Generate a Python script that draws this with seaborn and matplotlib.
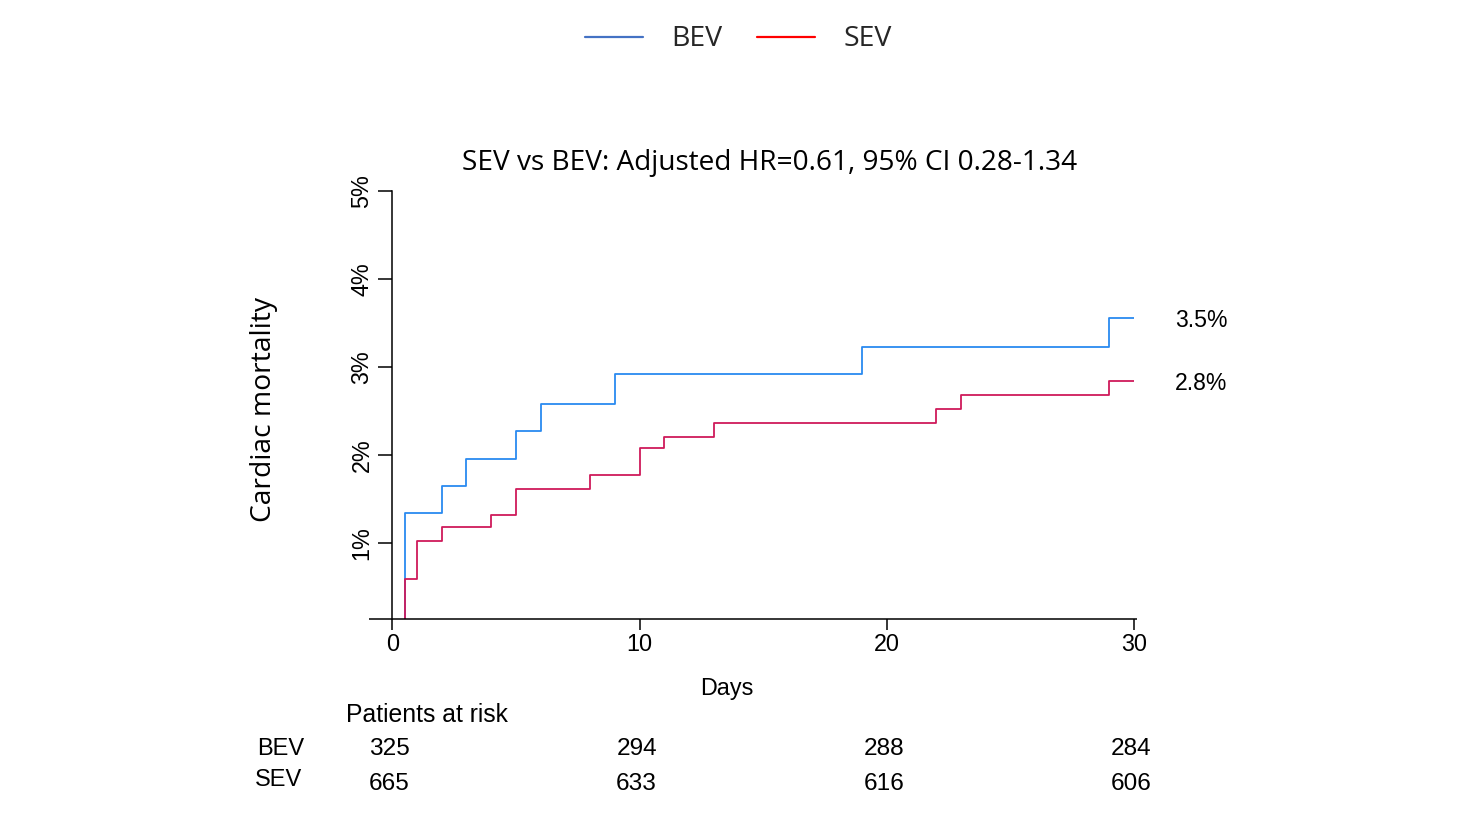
import numpy as np
import pandas as pd
import matplotlib
matplotlib.use("Agg")
import matplotlib.pyplot as plt
import matplotlib.transforms as mtransforms
from matplotlib.lines import Line2D
import seaborn as sns

# ---------------- data ----------------
groups = ["BEV", "SEV"]
bev_days = [0, 0.5, 2, 3, 5, 6, 9, 19, 29, 30]
bev_mort = [0.0, 1.34, 1.65, 1.96, 2.27, 2.58, 2.92, 3.23, 3.56, 3.56]
sev_days = [0, 0.5, 1, 2, 4, 5, 8, 10, 11, 13, 22, 23, 29, 30]
sev_mort = [0.0, 0.59, 1.03, 1.18, 1.32, 1.62, 1.78, 2.08, 2.21, 2.37, 2.53, 2.68, 2.84, 2.84]
end_labels = ["3.5%", "2.8%"]
risk_days = [0, 10, 20, 30]
bev_risk = [325, 294, 288, 284]
sev_risk = [665, 633, 616, 606]
x_ticks = [0, 10, 20, 30]
y_ticks = [1, 2, 3, 4, 5]
y_tick_labels = ["1%", "2%", "3%", "4%", "5%"]
title = "SEV vs BEV: Adjusted HR=0.61, 95% CI 0.28-1.34"

df = pd.concat([
    pd.DataFrame({"day": bev_days, "mort": bev_mort, "group": "BEV"}),
    pd.DataFrame({"day": sev_days, "mort": sev_mort, "group": "SEV"}),
], ignore_index=True)

# ---------------- style ----------------
sns.set_theme(style="white")
plt.rcParams["font.family"] = ["Liberation Sans", "DejaVu Sans"]
ARIAL = ["Liberation Sans", "DejaVu Sans"]
HUMAN = ["Open Sans", "DejaVu Sans"]

W, H = 1478, 832
fig = plt.figure(figsize=(W / 100, H / 100), dpi=100)
fig.patch.set_facecolor("white")

def fx(px):
    return px / W

def fy(py):
    return 1 - py / H

# small downward shift (pixels) so that capitals are centred like the reference
down = mtransforms.ScaledTranslation(0, -2.5 / 100, fig.dpi_scale_trans)

ax = fig.add_axes([fx(392.3), fy(619), fx(1134) - fx(392.3), fy(191) - fy(619)])
ax.set_facecolor("white")

line_palette = {"BEV": "#2a8af0", "SEV": "#cf1a5a"}
sns.lineplot(data=df, x="day", y="mort", hue="group", palette=line_palette,
             drawstyle="steps-post", estimator=None, sort=False,
             linewidth=1.3, legend=False, ax=ax)

ax.set_xlim(0, 30)
ax.set_ylim(0.14, 5.0)

for s in ["top", "right", "bottom"]:
    ax.spines[s].set_visible(False)
ax.spines["left"].set_color("black")
ax.spines["left"].set_linewidth(1.1)
# bottom axis line extends slightly beyond the plotting range
ax.plot([-0.031, 1.004], [0, 0], transform=ax.transAxes, color="black",
        lw=1.1, clip_on=False, solid_capstyle="butt")

ax.set_xticks(x_ticks)
ax.set_xticklabels([str(t) for t in x_ticks], fontsize=16.8, family=ARIAL)
ax.set_yticks(y_ticks)
ax.set_yticklabels(y_tick_labels, fontsize=16.8, family=ARIAL, rotation=90, va="center")
ax.tick_params(axis="x", length=8, width=1.1, color="black", pad=2, labelcolor="black", direction="out", bottom=True)
ax.tick_params(axis="y", length=10, width=1.1, color="black", pad=3.5, labelcolor="black", direction="out", left=True)
ax.grid(False)

# axis labels
ax.set_xlabel("Days", fontsize=16.8, family=ARIAL, color="black", va="center")
ax.xaxis.set_label_coords((727 - 392.3) / 741.7, (619 - 688) / 428)
ax.set_ylabel("Cardiac mortality", fontsize=20.3, family=HUMAN, color="black", va="center")
ax.yaxis.set_label_coords((264 - 392.3) / 741.7, (619 - 409) / 428)

# title
ax.set_title(title, fontsize=20.2, family=HUMAN, color="black",
             x=(769.5 - 392.3) / 741.7, pad=15)

# end labels
for val, lab in zip([bev_mort[-1], sev_mort[-1]], end_labels):
    ax.text(31.66, val, lab, ha="left", va="center", fontsize=16.6,
            family=ARIAL, color="black", clip_on=False,
            transform=ax.transData + down)

# patients at risk table
blend = mtransforms.blended_transform_factory(ax.transData, fig.transFigure)
fig.text(fx(346), fy(713), "Patients at risk", ha="left", va="center",
         fontsize=17.8, family=ARIAL, color="black", transform=fig.transFigure + down)
fig.text(fx(257), fy(746.5), "BEV", ha="left", va="center", fontsize=17, family=ARIAL,
         color="black", transform=fig.transFigure + down)
fig.text(fx(255), fy(777), "SEV", ha="left", va="center", fontsize=17, family=ARIAL,
         color="black", transform=fig.transFigure + down)
for d, b, s in zip(risk_days, bev_risk, sev_risk):
    ax.text(d - 0.12, fy(746.5), str(b), transform=blend + down, ha="center", va="center",
            fontsize=17.6, family=ARIAL, color="black", clip_on=False)
    ax.text(d - 0.12, fy(781), str(s), transform=blend + down, ha="center", va="center",
            fontsize=17.6, family=ARIAL, color="black", clip_on=False)

# legend
legend_colors = {"BEV": "#4472c4", "SEV": "#ff0000"}
handles = [Line2D([0], [0], color=legend_colors[g], lw=1.6) for g in groups]
fig.legend(handles, groups, loc="center", bbox_to_anchor=(fx(738.5), fy(39.5)),
           ncol=2, frameon=False, prop={"family": HUMAN, "size": 20.5},
           handlelength=2.05, handletextpad=1.0, columnspacing=1.2)

fig.savefig("out.png", dpi=100, facecolor="white")
